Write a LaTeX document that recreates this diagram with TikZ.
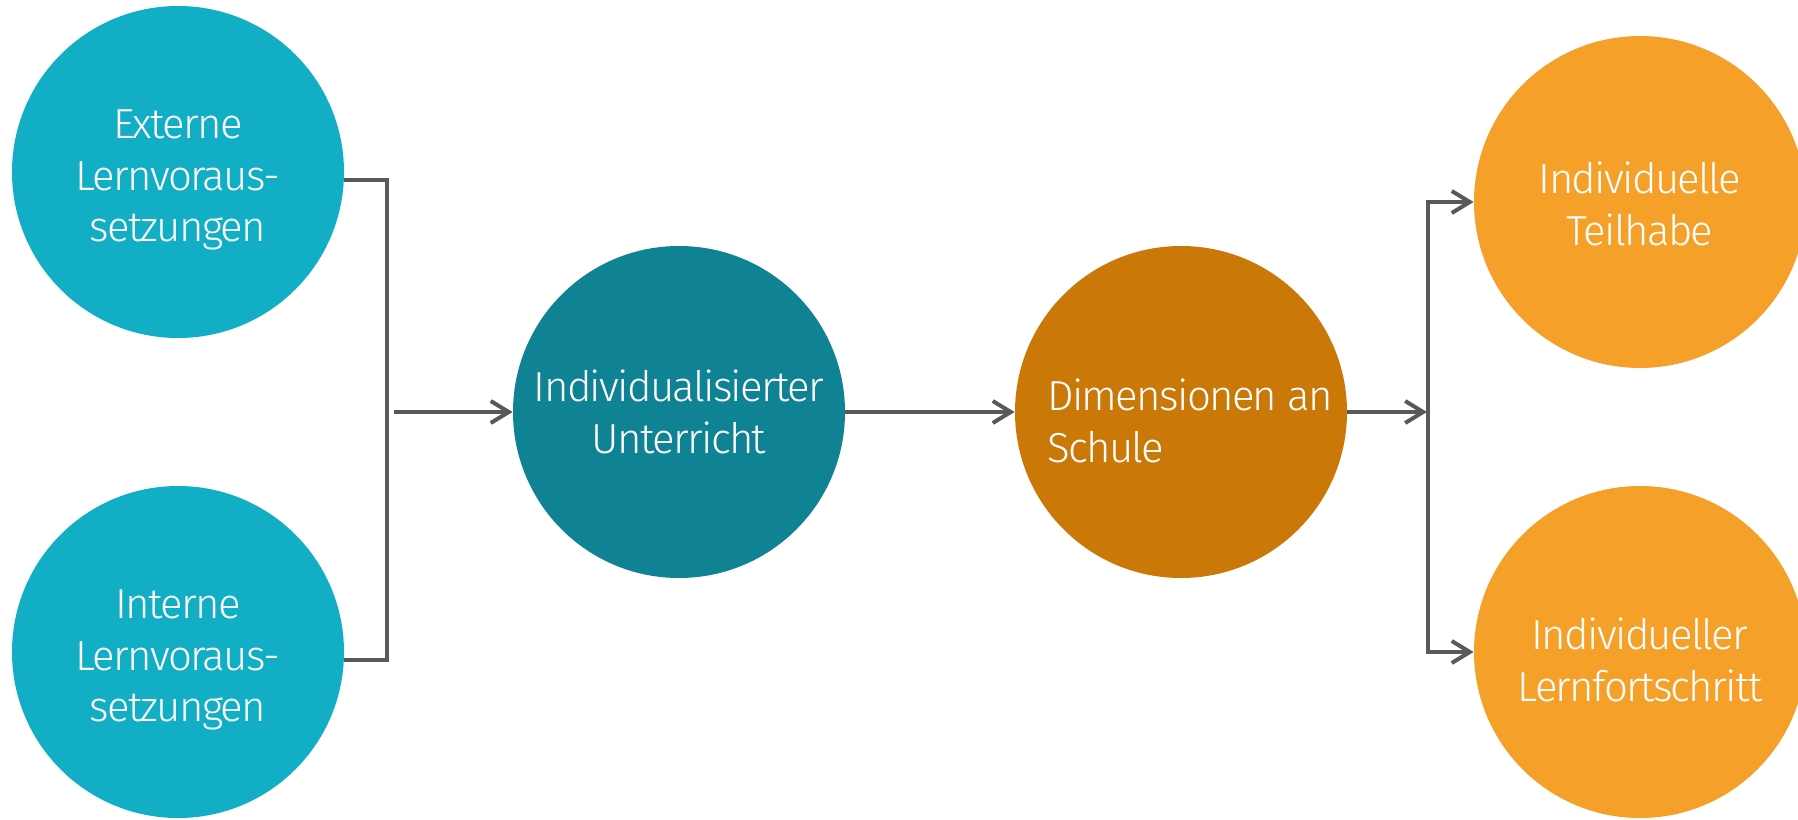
\documentclass[tikz,border=0pt]{standalone}
\usepackage{fontspec}
\newfontfamily\lightfont[LetterSpace=-4]{Fira Sans Light}
\usetikzlibrary{arrows.meta}
\definecolor{cyanc}{RGB}{18,174,198}
\definecolor{tealc}{RGB}{15,130,148}
\definecolor{darkor}{RGB}{202,120,8}
\definecolor{lightor}{RGB}{244,160,41}
\definecolor{linec}{RGB}{89,89,89}
\tikzset{
  bubble/.style={circle, minimum size=166pt, inner sep=0pt},
  btext/.style={text=white, inner sep=0pt,
    font=\lightfont\fontsize{21}{25.8}\selectfont, align=center},
  conn/.style={draw=linec, line width=2pt},
  tip/.style={-{Straight Barb[length=9pt,width=11pt,line width=2pt]}}
}
\begin{document}
\begin{tikzpicture}[x=0.5pt,y=-0.5pt]
\useasboundingbox (0,0) rectangle (1798,819);
\node[bubble, fill=cyanc] (ext) at (178,172) {};
\node[bubble, fill=cyanc] (int) at (178,652) {};
\node[bubble, fill=tealc] (ind) at (679,412) {};
\node[bubble, fill=darkor] (dim) at (1181,412) {};
\node[bubble, fill=lightor] (teil) at (1640,202) {};
\node[bubble, fill=lightor] (lern) at (1640,652) {};
\node[btext] (extT) at (178,180) {Externe\\Lernvoraus-\\setzungen};
\node[btext] (intT) at (178,660) {Interne\\Lernvoraus-\\setzungen};
\node[btext] (indT) at (679,412) {Individualisierter\\Unterricht};
\node[btext, align=left] (dimT) at (1190,421) {Dimensionen an\\Schule};
\node[btext] (teilT) at (1640,204) {Individuelle\\Teilhabe};
\node[btext] (lernT) at (1640,660) {Individueller\\Lernfortschritt};
\coordinate (a1) at (394,412);
\coordinate (split) at (1427,412);
\coordinate (vx) at (1428,412);
\draw[conn] ([yshift=-4pt]ext.east) -- ++(43,0) |- ([yshift=-4pt]int.east);
\draw[conn,tip] (a1) -- (ind.west);
\draw[conn,tip] (ind.east) -- (dim.west);
\draw[conn,tip] (dim.east) -- (split);
\draw[conn,tip] (vx) |- (teil.west);
\draw[conn,tip] (vx) |- (lern.west);
\end{tikzpicture}
\end{document}
